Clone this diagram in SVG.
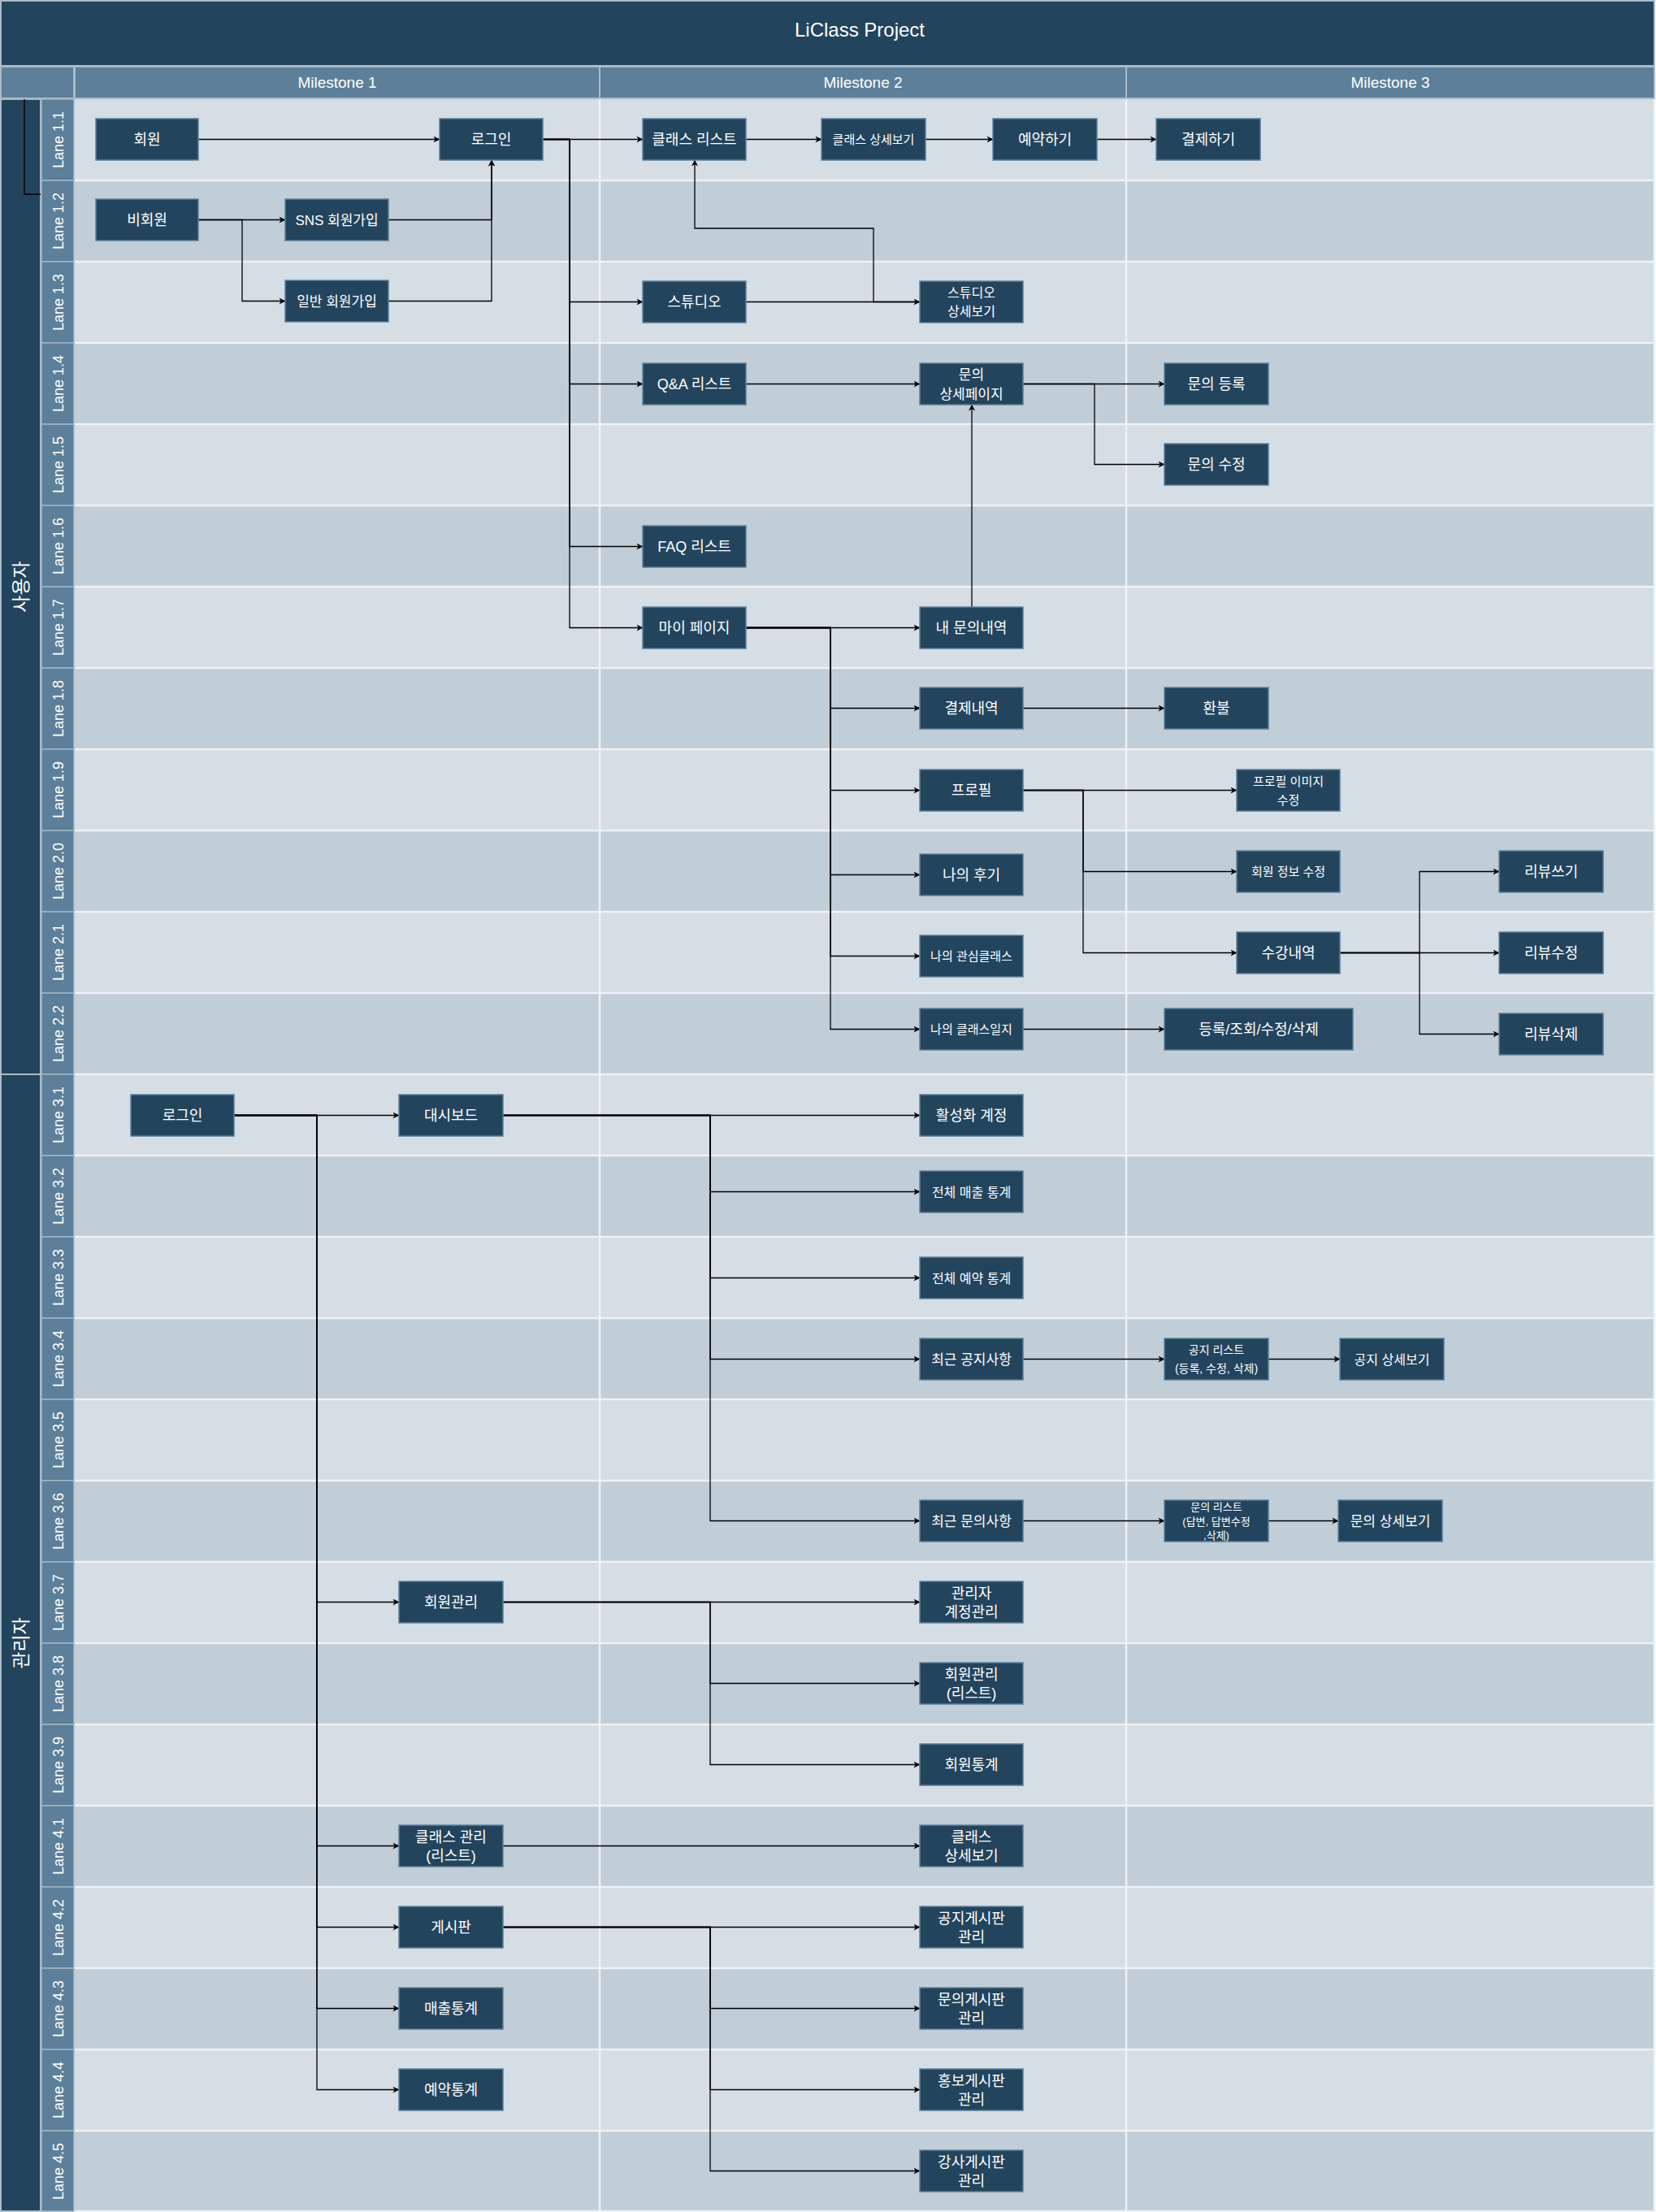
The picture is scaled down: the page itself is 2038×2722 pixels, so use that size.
<svg xmlns="http://www.w3.org/2000/svg" width="2038" height="2722" viewBox="0 0 2038 2722">
<defs>
<style>
.title{fill:#23445D;stroke:#A9BAC8;stroke-width:2}
.hdr{fill:#5D7F99;stroke:#A9BAC8;stroke-width:2}
.ht{fill:#fff;font-family:"Liberation Sans","Noto Sans CJK KR",sans-serif;font-size:19px;text-anchor:middle}
.pool{fill:#23445D;stroke:#A9BAC8;stroke-width:2}
.pt{fill:#fff;font-family:"Liberation Sans","Noto Sans CJK KR",sans-serif;font-size:23px;text-anchor:middle}
.ll{fill:#5D7F99;stroke:#A3B5C3;stroke-width:1.5}
.lt{fill:#fff;font-family:"Liberation Sans","Noto Sans CJK KR",sans-serif;font-size:18px;text-anchor:middle}
.la{fill:#D5DDE5}
.lb{fill:#C1CDD7}
.sep{stroke:#EEF2F5;stroke-width:2.5;fill:none}
.node rect{fill:#23445D;stroke:#5D7F99;stroke-width:1.5}
.node text{fill:#fff;font-family:"Liberation Sans","Noto Sans CJK KR",sans-serif;font-size:18px;text-anchor:middle}
.node text.s17{font-size:17px}
.node text.s16{font-size:16px}
.node text.s15{font-size:15px}
.node text.s14{font-size:14px}
.node text.s13{font-size:13px}
.edge{fill:none;stroke:#000;stroke-width:1.3;marker-end:url(#arr)}
.plain{fill:none;stroke:#000;stroke-width:1.3}
</style>
<marker id="arr" viewBox="0 0 10 10" refX="9.5" refY="5" markerWidth="8" markerHeight="8" markerUnits="userSpaceOnUse" orient="auto">
<path d="M0,0 L10,5 L0,10 L3,5 Z" fill="#000"/>
</marker>
</defs>

<!-- background frame -->
<g id="frame">
<rect class="title" x="1" y="1" width="2035" height="80"/>
<text class="pt" x="1058" y="45" style="font-size:24px">LiClass Project</text>
<rect class="hdr" x="1" y="82" width="90" height="39"/>
<rect class="hdr" x="92" y="82" width="646" height="39"/>
<rect class="hdr" x="738" y="82" width="648" height="39"/>
<rect class="hdr" x="1386" y="82" width="650" height="39"/>
<text class="ht" x="415" y="108">Milestone 1</text>
<text class="ht" x="1062" y="108">Milestone 2</text>
<text class="ht" x="1711" y="108">Milestone 3</text>
</g>

<g id="lanes">
<rect class="la" x="92" y="122" width="1944" height="100"/>
<rect class="lb" x="92" y="222" width="1944" height="100"/>
<rect class="la" x="92" y="322" width="1944" height="100"/>
<rect class="lb" x="92" y="422" width="1944" height="100"/>
<rect class="la" x="92" y="522" width="1944" height="100"/>
<rect class="lb" x="92" y="622" width="1944" height="100"/>
<rect class="la" x="92" y="722" width="1944" height="100"/>
<rect class="lb" x="92" y="822" width="1944" height="100"/>
<rect class="la" x="92" y="922" width="1944" height="100"/>
<rect class="lb" x="92" y="1022" width="1944" height="100"/>
<rect class="la" x="92" y="1122" width="1944" height="100"/>
<rect class="lb" x="92" y="1222" width="1944" height="100"/>
<rect class="la" x="92" y="1322" width="1944" height="100"/>
<rect class="lb" x="92" y="1422" width="1944" height="100"/>
<rect class="la" x="92" y="1522" width="1944" height="100"/>
<rect class="lb" x="92" y="1622" width="1944" height="100"/>
<rect class="la" x="92" y="1722" width="1944" height="100"/>
<rect class="lb" x="92" y="1822" width="1944" height="100"/>
<rect class="la" x="92" y="1922" width="1944" height="100"/>
<rect class="lb" x="92" y="2022" width="1944" height="100"/>
<rect class="la" x="92" y="2122" width="1944" height="100"/>
<rect class="lb" x="92" y="2222" width="1944" height="100"/>
<rect class="la" x="92" y="2322" width="1944" height="100"/>
<rect class="lb" x="92" y="2422" width="1944" height="100"/>
<rect class="la" x="92" y="2522" width="1944" height="100"/>
<rect class="lb" x="92" y="2622" width="1944" height="100"/>
<path class="sep" d="M92,222H2036M92,322H2036M92,422H2036M92,522H2036M92,622H2036M92,722H2036M92,822H2036M92,922H2036M92,1022H2036M92,1122H2036M92,1222H2036M92,1322H2036M92,1422H2036M92,1522H2036M92,1622H2036M92,1722H2036M92,1822H2036M92,1922H2036M92,2022H2036M92,2122H2036M92,2222H2036M92,2322H2036M92,2422H2036M92,2522H2036M92,2622H2036M92,2721H2036M738,122V2722M1386,122V2722M2036,122V2722"/>
</g>

<g id="pools">
<rect class="pool" x="1" y="122" width="49" height="1200"/>
<rect class="pool" x="1" y="1322" width="49" height="1399"/>
<text class="pt" x="26" y="722" transform="rotate(-90 26 722)" dy="8">사용자</text>
<text class="pt" x="26" y="2022" transform="rotate(-90 26 2022)" dy="8">관리자</text>
</g>

<g id="lane-labels">
<rect class="ll" x="51" y="122" width="40" height="100"/><text class="lt" x="71" y="172" dy="6.5" transform="rotate(-90 71 172)">Lane 1.1</text>
<rect class="ll" x="51" y="222" width="40" height="100"/><text class="lt" x="71" y="272" dy="6.5" transform="rotate(-90 71 272)">Lane 1.2</text>
<rect class="ll" x="51" y="322" width="40" height="100"/><text class="lt" x="71" y="372" dy="6.5" transform="rotate(-90 71 372)">Lane 1.3</text>
<rect class="ll" x="51" y="422" width="40" height="100"/><text class="lt" x="71" y="472" dy="6.5" transform="rotate(-90 71 472)">Lane 1.4</text>
<rect class="ll" x="51" y="522" width="40" height="100"/><text class="lt" x="71" y="572" dy="6.5" transform="rotate(-90 71 572)">Lane 1.5</text>
<rect class="ll" x="51" y="622" width="40" height="100"/><text class="lt" x="71" y="672" dy="6.5" transform="rotate(-90 71 672)">Lane 1.6</text>
<rect class="ll" x="51" y="722" width="40" height="100"/><text class="lt" x="71" y="772" dy="6.5" transform="rotate(-90 71 772)">Lane 1.7</text>
<rect class="ll" x="51" y="822" width="40" height="100"/><text class="lt" x="71" y="872" dy="6.5" transform="rotate(-90 71 872)">Lane 1.8</text>
<rect class="ll" x="51" y="922" width="40" height="100"/><text class="lt" x="71" y="972" dy="6.5" transform="rotate(-90 71 972)">Lane 1.9</text>
<rect class="ll" x="51" y="1022" width="40" height="100"/><text class="lt" x="71" y="1072" dy="6.5" transform="rotate(-90 71 1072)">Lane 2.0</text>
<rect class="ll" x="51" y="1122" width="40" height="100"/><text class="lt" x="71" y="1172" dy="6.5" transform="rotate(-90 71 1172)">Lane 2.1</text>
<rect class="ll" x="51" y="1222" width="40" height="100"/><text class="lt" x="71" y="1272" dy="6.5" transform="rotate(-90 71 1272)">Lane 2.2</text>
<rect class="ll" x="51" y="1322" width="40" height="100"/><text class="lt" x="71" y="1372" dy="6.5" transform="rotate(-90 71 1372)">Lane 3.1</text>
<rect class="ll" x="51" y="1422" width="40" height="100"/><text class="lt" x="71" y="1472" dy="6.5" transform="rotate(-90 71 1472)">Lane 3.2</text>
<rect class="ll" x="51" y="1522" width="40" height="100"/><text class="lt" x="71" y="1572" dy="6.5" transform="rotate(-90 71 1572)">Lane 3.3</text>
<rect class="ll" x="51" y="1622" width="40" height="100"/><text class="lt" x="71" y="1672" dy="6.5" transform="rotate(-90 71 1672)">Lane 3.4</text>
<rect class="ll" x="51" y="1722" width="40" height="100"/><text class="lt" x="71" y="1772" dy="6.5" transform="rotate(-90 71 1772)">Lane 3.5</text>
<rect class="ll" x="51" y="1822" width="40" height="100"/><text class="lt" x="71" y="1872" dy="6.5" transform="rotate(-90 71 1872)">Lane 3.6</text>
<rect class="ll" x="51" y="1922" width="40" height="100"/><text class="lt" x="71" y="1972" dy="6.5" transform="rotate(-90 71 1972)">Lane 3.7</text>
<rect class="ll" x="51" y="2022" width="40" height="100"/><text class="lt" x="71" y="2072" dy="6.5" transform="rotate(-90 71 2072)">Lane 3.8</text>
<rect class="ll" x="51" y="2122" width="40" height="100"/><text class="lt" x="71" y="2172" dy="6.5" transform="rotate(-90 71 2172)">Lane 3.9</text>
<rect class="ll" x="51" y="2222" width="40" height="100"/><text class="lt" x="71" y="2272" dy="6.5" transform="rotate(-90 71 2272)">Lane 4.1</text>
<rect class="ll" x="51" y="2322" width="40" height="100"/><text class="lt" x="71" y="2372" dy="6.5" transform="rotate(-90 71 2372)">Lane 4.2</text>
<rect class="ll" x="51" y="2422" width="40" height="100"/><text class="lt" x="71" y="2472" dy="6.5" transform="rotate(-90 71 2472)">Lane 4.3</text>
<rect class="ll" x="51" y="2522" width="40" height="100"/><text class="lt" x="71" y="2572" dy="6.5" transform="rotate(-90 71 2572)">Lane 4.4</text>
<rect class="ll" x="51" y="2622" width="40" height="99"/><text class="lt" x="71" y="2672" dy="6.5" transform="rotate(-90 71 2672)">Lane 4.5</text>
</g>

<g id="connectors">
<path class="plain" d="M30,122V239H50"/>
<path class="edge" d="M244,171.5H541"/>
<path class="edge" d="M668,171.5H791"/>
<path class="edge" d="M668,171.5H701V371.5H791"/>
<path class="edge" d="M668,171.5H701V472.5H791"/>
<path class="edge" d="M668,171.5H701V672.5H791"/>
<path class="edge" d="M668,171.5H701V772.5H791"/>
<path class="edge" d="M918,171.5H1011"/>
<path class="edge" d="M1139,171.5H1222"/>
<path class="edge" d="M1350,171.5H1423"/>
<path class="edge" d="M244,270.5H351"/>
<path class="edge" d="M244,270.5H298V370.5H351"/>
<path class="edge" d="M478,270.5H605V197"/>
<path class="edge" d="M478,370.5H605V197"/>
<path class="edge" d="M918,371.5H1132"/>
<path class="edge" d="M1132,371.5H1075V281H855V197"/>
<path class="edge" d="M918,472.5H1132"/>
<path class="edge" d="M1259,472.5H1433"/>
<path class="edge" d="M1259,472.5H1347V571.5H1433"/>
<path class="edge" d="M918,772.5H1132"/>
<path class="edge" d="M1196,747V498"/>
<path class="edge" d="M918,772.5H1022V871.5H1132"/>
<path class="edge" d="M918,772.5H1022V972.5H1132"/>
<path class="edge" d="M918,772.5H1022V1076.5H1132"/>
<path class="edge" d="M918,772.5H1022V1176.5H1132"/>
<path class="edge" d="M918,772.5H1022V1266.5H1132"/>
<path class="edge" d="M1259,871.5H1433"/>
<path class="edge" d="M1259,972.5H1522"/>
<path class="edge" d="M1259,972.5H1333V1072.5H1522"/>
<path class="edge" d="M1259,972.5H1333V1172.5H1522"/>
<path class="edge" d="M1649,1172.5H1845"/>
<path class="edge" d="M1649,1172.5H1747V1072.5H1845"/>
<path class="edge" d="M1649,1172.5H1747V1272.5H1845"/>
<path class="edge" d="M1259,1266.5H1433"/>
<path class="edge" d="M288,1372.5H491"/>
<path class="edge" d="M288,1372.5H390V1971.5H491"/>
<path class="edge" d="M288,1372.5H390V2271.5H491"/>
<path class="edge" d="M288,1372.5H390V2371.5H491"/>
<path class="edge" d="M288,1372.5H390V2471.5H491"/>
<path class="edge" d="M288,1372.5H390V2571.5H491"/>
<path class="edge" d="M619,1372.5H1132"/>
<path class="edge" d="M619,1372.5H874V1466.5H1132"/>
<path class="edge" d="M619,1372.5H874V1572.5H1132"/>
<path class="edge" d="M619,1372.5H874V1672.5H1132"/>
<path class="edge" d="M619,1372.5H874V1871.5H1132"/>
<path class="edge" d="M1259,1672.5H1433"/>
<path class="edge" d="M1561,1672.5H1649"/>
<path class="edge" d="M1259,1871.5H1433"/>
<path class="edge" d="M1561,1871.5H1647"/>
<path class="edge" d="M619,1971.5H1132"/>
<path class="edge" d="M619,1971.5H874V2071.5H1132"/>
<path class="edge" d="M619,1971.5H874V2171.5H1132"/>
<path class="edge" d="M619,2271.5H1132"/>
<path class="edge" d="M619,2371.5H1132"/>
<path class="edge" d="M619,2371.5H874V2471.5H1132"/>
<path class="edge" d="M619,2371.5H874V2571.5H1132"/>
<path class="edge" d="M619,2371.5H874V2671.5H1132"/>
</g>

<g id="n_member" class="node"><rect x="118" y="146" width="126" height="51"/><text x="181" y="178">회원</text></g>
<g id="n_login" class="node"><rect x="541" y="146" width="127" height="51"/><text x="604.5" y="178">로그인</text></g>
<g id="n_classlist" class="node"><rect x="791" y="146" width="127" height="51"/><text x="854.5" y="178">클래스 리스트</text></g>
<g id="n_classdetail" class="node"><rect x="1011" y="146" width="128" height="51"/><text class="s15" x="1075" y="177">클래스 상세보기</text></g>
<g id="n_reserve" class="node"><rect x="1222" y="146" width="128" height="51"/><text x="1286" y="178">예약하기</text></g>
<g id="n_pay" class="node"><rect x="1423" y="146" width="128" height="51"/><text x="1487" y="178">결제하기</text></g>
<g id="n_guest" class="node"><rect x="118" y="245" width="126" height="51"/><text x="181" y="277">비회원</text></g>
<g id="n_sns" class="node"><rect x="351" y="245" width="127" height="51"/><text class="s17" x="414.5" y="277">SNS 회원가입</text></g>
<g id="n_normal" class="node"><rect x="351" y="345" width="127" height="51"/><text class="s17" x="414.5" y="377">일반 회원가입</text></g>
<g id="n_studio" class="node"><rect x="791" y="346" width="127" height="51"/><text x="854.5" y="378">스튜디오</text></g>
<g id="n_studiodetail" class="node"><rect x="1132" y="346" width="127" height="51"/><text class="s16" x="1195.5" y="366">스튜디오</text><text class="s16" x="1195.5" y="389">상세보기</text></g>
<g id="n_qna" class="node"><rect x="791" y="447" width="127" height="51"/><text x="854.5" y="479">Q&amp;A 리스트</text></g>
<g id="n_qnadetail" class="node"><rect x="1132" y="447" width="127" height="51"/><text class="s17" x="1195.5" y="467">문의</text><text class="s17" x="1195.5" y="491">상세페이지</text></g>
<g id="n_qreg" class="node"><rect x="1433" y="447" width="128" height="51"/><text x="1497" y="479">문의 등록</text></g>
<g id="n_qedit" class="node"><rect x="1433" y="546" width="128" height="51"/><text x="1497" y="578">문의 수정</text></g>
<g id="n_faq" class="node"><rect x="791" y="647" width="127" height="51"/><text x="854.5" y="679">FAQ 리스트</text></g>
<g id="n_mypage" class="node"><rect x="791" y="747" width="127" height="51"/><text x="854.5" y="779">마이 페이지</text></g>
<g id="n_myq" class="node"><rect x="1132" y="747" width="127" height="51"/><text x="1195.5" y="779">내 문의내역</text></g>
<g id="n_payhist" class="node"><rect x="1132" y="846" width="127" height="51"/><text x="1195.5" y="878">결제내역</text></g>
<g id="n_refund" class="node"><rect x="1433" y="846" width="128" height="51"/><text x="1497" y="878">환불</text></g>
<g id="n_profile" class="node"><rect x="1132" y="947" width="127" height="51"/><text x="1195.5" y="979">프로필</text></g>
<g id="n_profimg" class="node"><rect x="1522" y="947" width="127" height="51"/><text class="s15" x="1585.5" y="966.5">프로필 이미지</text><text class="s15" x="1585.5" y="989.5">수정</text></g>
<g id="n_myreview" class="node"><rect x="1132" y="1051" width="127" height="51"/><text x="1195.5" y="1083">나의 후기</text></g>
<g id="n_editinfo" class="node"><rect x="1522" y="1047" width="127" height="51"/><text class="s15" x="1585.5" y="1078">회원 정보 수정</text></g>
<g id="n_rwrite" class="node"><rect x="1845" y="1047" width="128" height="51"/><text x="1909" y="1079">리뷰쓰기</text></g>
<g id="n_fav" class="node"><rect x="1132" y="1151" width="127" height="51"/><text class="s15" x="1195.5" y="1182">나의 관심클래스</text></g>
<g id="n_courses" class="node"><rect x="1522" y="1147" width="127" height="51"/><text x="1585.5" y="1179">수강내역</text></g>
<g id="n_redit" class="node"><rect x="1845" y="1147" width="128" height="51"/><text x="1909" y="1179">리뷰수정</text></g>
<g id="n_diary" class="node"><rect x="1132" y="1241" width="127" height="51"/><text class="s15" x="1195.5" y="1272">나의 클래스일지</text></g>
<g id="n_crud" class="node"><rect x="1433" y="1241" width="232" height="51"/><text x="1549" y="1273">등록/조회/수정/삭제</text></g>
<g id="n_rdel" class="node"><rect x="1845" y="1247" width="128" height="51"/><text x="1909" y="1279">리뷰삭제</text></g>

<g id="a_login" class="node"><rect x="161" y="1347" width="127" height="51"/><text x="224.5" y="1379">로그인</text></g>
<g id="a_dash" class="node"><rect x="491" y="1347" width="128" height="51"/><text x="555" y="1379">대시보드</text></g>
<g id="a_active" class="node"><rect x="1132" y="1347" width="127" height="51"/><text x="1195.5" y="1379">활성화 계정</text></g>
<g id="a_sales" class="node"><rect x="1132" y="1441" width="127" height="51"/><text class="s16" x="1195.5" y="1472.5">전체 매출 통계</text></g>
<g id="a_resv" class="node"><rect x="1132" y="1547" width="127" height="51"/><text class="s16" x="1195.5" y="1578.5">전체 예약 통계</text></g>
<g id="a_notice" class="node"><rect x="1132" y="1647" width="127" height="51"/><text class="s17" x="1195.5" y="1679">최근 공지사항</text></g>
<g id="a_noticelist" class="node"><rect x="1433" y="1647" width="128" height="51"/><text class="s14" x="1497" y="1666">공지 리스트</text><text class="s14" x="1497" y="1689">(등록, 수정, 삭제)</text></g>
<g id="a_noticedetail" class="node"><rect x="1649" y="1647" width="128" height="51"/><text class="s16" x="1713" y="1678.5">공지 상세보기</text></g>
<g id="a_inq" class="node"><rect x="1132" y="1846" width="127" height="51"/><text class="s17" x="1195.5" y="1878">최근 문의사항</text></g>
<g id="a_inqlist" class="node"><rect x="1433" y="1846" width="128" height="51"/><text class="s13" x="1497" y="1859">문의 리스트</text><text class="s13" x="1497" y="1876.5">(답변, 답변수정</text><text class="s13" x="1497" y="1894">,삭제)</text></g>
<g id="a_inqdetail" class="node"><rect x="1647" y="1846" width="128" height="51"/><text class="s17" x="1711" y="1878">문의 상세보기</text></g>
<g id="a_member" class="node"><rect x="491" y="1946" width="128" height="51"/><text x="555" y="1978">회원관리</text></g>
<g id="a_admacct" class="node"><rect x="1132" y="1946" width="127" height="51"/><text x="1195.5" y="1966.5">관리자</text><text x="1195.5" y="1989.5">계정관리</text></g>
<g id="a_memlist" class="node"><rect x="1132" y="2046" width="127" height="51"/><text x="1195.5" y="2066.5">회원관리</text><text x="1195.5" y="2089.5">(리스트)</text></g>
<g id="a_memstat" class="node"><rect x="1132" y="2146" width="127" height="51"/><text x="1195.5" y="2178">회원통계</text></g>
<g id="a_class" class="node"><rect x="491" y="2246" width="128" height="51"/><text x="555" y="2266.5">클래스 관리</text><text x="555" y="2289.5">(리스트)</text></g>
<g id="a_classdetail" class="node"><rect x="1132" y="2246" width="127" height="51"/><text x="1195.5" y="2266.5">클래스</text><text x="1195.5" y="2289.5">상세보기</text></g>
<g id="a_board" class="node"><rect x="491" y="2346" width="128" height="51"/><text x="555" y="2378">게시판</text></g>
<g id="a_noticeboard" class="node"><rect x="1132" y="2346" width="127" height="51"/><text x="1195.5" y="2366.5">공지게시판</text><text x="1195.5" y="2389.5">관리</text></g>
<g id="a_salesstat" class="node"><rect x="491" y="2446" width="128" height="51"/><text x="555" y="2478">매출통계</text></g>
<g id="a_inqboard" class="node"><rect x="1132" y="2446" width="127" height="51"/><text x="1195.5" y="2466.5">문의게시판</text><text x="1195.5" y="2489.5">관리</text></g>
<g id="a_resvstat" class="node"><rect x="491" y="2546" width="128" height="51"/><text x="555" y="2578">예약통계</text></g>
<g id="a_promoboard" class="node"><rect x="1132" y="2546" width="127" height="51"/><text x="1195.5" y="2566.5">홍보게시판</text><text x="1195.5" y="2589.5">관리</text></g>
<g id="a_teacherboard" class="node"><rect x="1132" y="2646" width="127" height="51"/><text x="1195.5" y="2666.5">강사게시판</text><text x="1195.5" y="2689.5">관리</text></g>
</svg>
